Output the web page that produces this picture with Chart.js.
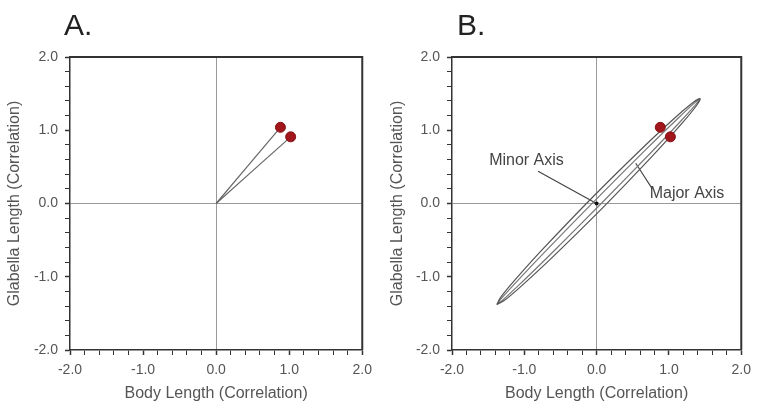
<!DOCTYPE html>
<html>
<head>
<meta charset="utf-8">
<script src="https://cdn.jsdelivr.net/npm/chart.js@4"></script>
<style>
    body { margin: 0; background: #fff; }
    #wrap { position: relative; width: 758px; height: 405px; overflow: hidden; }
    .panel { position: absolute; top: 0; }
    .tag { position: absolute; top: 8px; font: 30px "Liberation Sans", Arial, sans-serif; color: #222; }
</style>
</head>
<body>
<div id="wrap">
    <div class="panel" style="left:0"><canvas id="chartA" width="379" height="405"></canvas></div>
    <div class="panel" style="left:379px"><canvas id="chartB" width="379" height="405"></canvas></div>
    <div class="tag" style="left:64px">A.</div>
    <div class="tag" style="left:457px">B.</div>
</div>
<script>
    // 相関ベクトル（体長, 眉間長）
    const loadings = [{x: 0.88, y: 1.04}, {x: 1.02, y: 0.91}];
    const origin = {x: 0, y: 0};
    const tickLabels = ['-2.0', '-1.0', '0.0', '1.0', '2.0'];

    // B: 外側の楕円の輪郭
    const outerEllipse = [
        {x: -1.38, y: -1.38}, {x: -1.332, y: -1.288}, {x: -1.141, y: -1.057}, {x: -0.739, y: -0.617},
        {x: -0.046, y: 0.096}, {x: 0.667, y: 0.789}, {x: 1.107, y: 1.191}, {x: 1.338, y: 1.382},
        {x: 1.43, y: 1.43}, {x: 1.382, y: 1.338}, {x: 1.191, y: 1.107}, {x: 0.789, y: 0.667},
        {x: 0.096, y: -0.046}, {x: -0.617, y: -0.739}, {x: -1.057, y: -1.141}, {x: -1.288, y: -1.332},
        {x: -1.38, y: -1.38}
    ];
    // B: 内側の楕円の輪郭
    const innerEllipse = [
        {x: -1.38, y: -1.38}, {x: -1.320, y: -1.300}, {x: -1.118, y: -1.080}, {x: -0.706, y: -0.650},
        {x: -0.007, y: 0.057}, {x: 0.700, y: 0.756}, {x: 1.130, y: 1.168}, {x: 1.350, y: 1.370},
        {x: 1.43, y: 1.43}, {x: 1.370, y: 1.350}, {x: 1.168, y: 1.130}, {x: 0.756, y: 0.700},
        {x: 0.057, y: -0.007}, {x: -0.650, y: -0.706}, {x: -1.080, y: -1.118}, {x: -1.300, y: -1.320},
        {x: -1.38, y: -1.38}
    ];
    // 引き出し線と注記
    const minorLeader = [{x: -0.81, y: 0.44}, {x: -0.02, y: 0.01}];
    const majorLeader = [{x: 0.77, y: 0.20}, {x: 0.54, y: 0.55}];
    const notesB = [
        {text: 'Minor Axis', x: -0.97, y: 0.59},
        {text: 'Major Axis', x: 1.25, y: 0.14}
    ];

    const FONT = '"Liberation Sans", Arial, sans-serif';
    const INK = '#333';

    // 上と右の枠線
    const framePlugin = {
        id: 'frame',
        afterDraw(chart) {
            const {ctx, chartArea: a} = chart;
            ctx.save();
            ctx.strokeStyle = INK;
            ctx.lineWidth = 2;
            ctx.beginPath();
            ctx.moveTo(a.left, a.top);
            ctx.lineTo(a.right, a.top);
            ctx.lineTo(a.right, a.bottom);
            ctx.stroke();
            ctx.restore();
        }
    };

    // 図中の文字
    const notePlugin = {
        id: 'notes',
        afterDatasetsDraw(chart, args, opts) {
            const items = opts.items || [];
            const {ctx, scales} = chart;
            ctx.save();
            ctx.font = '16px ' + FONT;
            ctx.fillStyle = '#444';
            ctx.textAlign = 'center';
            ctx.textBaseline = 'middle';
            items.forEach(n => {
                ctx.fillText(n.text, scales.x.getPixelForValue(n.x), scales.y.getPixelForValue(n.y));
            });
            ctx.restore();
        }
    };

    function isMajor(v) {
        return Math.abs(v - Math.round(v)) < 1e-6;
    }

    function axis(title, fit, titlePad) {
        return {
            type: 'linear',
            min: -2,
            max: 2,
            afterFit: fit,
            border: {display: true, color: INK, width: 1.5},
            grid: {
                drawOnChartArea: true,
                drawTicks: true,
                tickLength: 5,
                color: c => (c.tick && Math.abs(c.tick.value) < 1e-6) ? '#9a9a9a' : 'rgba(0,0,0,0)',
                tickColor: INK,
                tickWidth: c => (c.tick && isMajor(c.tick.value)) ? 1.5 : 1
            },
            ticks: {
                stepSize: 0.2,
                autoSkip: false,
                maxRotation: 0,
                padding: 7,
                color: '#555',
                font: {family: FONT, size: 14},
                callback: v => isMajor(v) ? tickLabels[Math.round(v) + 2] : ''
            },
            title: {
                display: true,
                text: title,
                color: '#555',
                font: {family: FONT, size: 16},
                padding: titlePad
            }
        };
    }

    function lineSet(data, color, width) {
        return {
            data: data,
            showLine: true,
            borderColor: color,
            borderWidth: width,
            pointRadius: 0,
            tension: 0.3,
            fill: false
        };
    }

    function dotSet() {
        return {
            data: loadings,
            pointRadius: 5,
            pointBackgroundColor: '#a0161b',
            pointBorderColor: '#851014',
            pointBorderWidth: 1
        };
    }

    function makeChart(id, datasets, yWidth, padRight, yTitlePad, notes) {
        const ctx = document.getElementById(id).getContext('2d');
        return new Chart(ctx, {
            type: 'scatter',
            data: {datasets: datasets},
            options: {
                responsive: false,
                animation: false,
                layout: {padding: {top: 57, right: padRight, left: 0, bottom: 0}},
                scales: {
                    x: axis('Body Length (Correlation)', s => { s.height = 55; }, {top: 0, bottom: 2}),
                    y: axis('Glabella Length (Correlation)', s => { s.width = yWidth; }, {top: yTitlePad, bottom: 0})
                },
                plugins: {
                    legend: {display: false},
                    tooltip: {enabled: false},
                    notes: {items: notes}
                }
            },
            plugins: [framePlugin, notePlugin]
        });
    }

    // A: 原点からのベクトル
    makeChart('chartA', [
        dotSet(),
        lineSet([origin, loadings[0]], '#666', 1.2),
        lineSet([origin, loadings[1]], '#666', 1.2)
    ], 70, 16, 5, []);

    // B: 楕円と長軸・短軸
    makeChart('chartB', [
        dotSet(),
        {data: [origin], pointRadius: 2, pointBackgroundColor: '#111', pointBorderWidth: 0},
        lineSet(outerEllipse, '#555', 1.2),
        lineSet(innerEllipse, '#777', 1.2),
        lineSet(minorLeader, '#444', 1.2),
        lineSet(majorLeader, '#444', 1.2)
    ], 73, 9, 9, notesB);
</script>
</body>
</html>
